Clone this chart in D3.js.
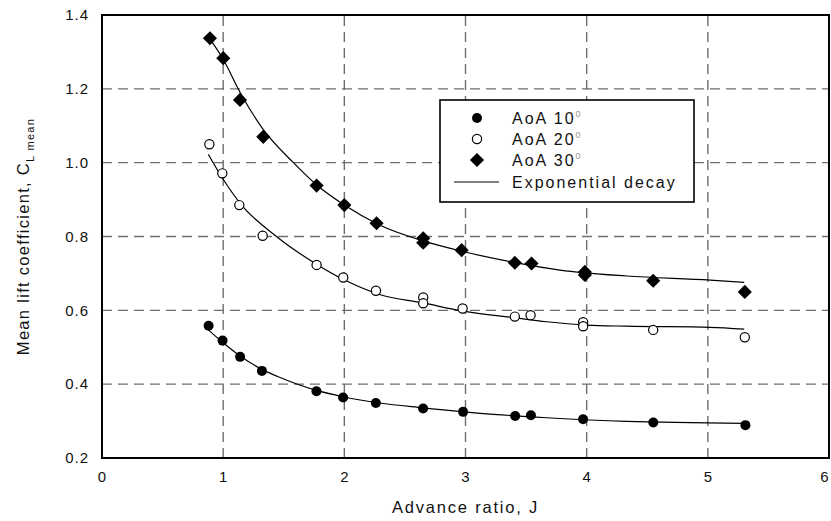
<!DOCTYPE html>
<html>
<head>
<meta charset="utf-8">
<script src="https://cdn.jsdelivr.net/npm/d3@7"></script>
<style>
  body { margin: 0; background: #fff; }
  svg { display: block; font-family: "Liberation Sans", Arial, sans-serif; }
</style>
</head>
<body>
<script>
// measured points [J, C_L]
const aoa10 = [[0.88,0.558],[0.995,0.518],[1.14,0.474],[1.32,0.436],[1.77,0.381],[1.99,0.364],[2.26,0.349],
  [2.65,0.334],[2.98,0.325],[3.41,0.314],[3.54,0.316],[3.97,0.305],[4.55,0.296],[5.31,0.289]];
const aoa20 = [[0.886,1.050],[0.993,0.971],[1.133,0.885],[1.326,0.802],[1.771,0.723],[1.991,0.689],[2.261,0.653],
  [2.651,0.635],[2.651,0.619],[2.976,0.605],[3.407,0.583],[3.537,0.587],[3.971,0.568],[3.971,0.557],[4.549,0.547],[5.305,0.527]];
const aoa30 = [[0.891,1.337],[1.001,1.283],[1.139,1.170],[1.331,1.070],[1.771,0.938],[2.0,0.885],[2.266,0.836],
  [2.651,0.795],[2.651,0.783],[2.968,0.763],[3.407,0.729],[3.545,0.727],[3.985,0.704],[3.985,0.696],[4.549,0.680],[5.305,0.650]];

// fitted exponential decay curves
const fit10 = [[0.864,0.551],[1.0,0.512],[1.14,0.476],[1.32,0.440],[1.47,0.418],[1.77,0.383],[1.99,0.366],
  [2.29,0.349],[2.65,0.336],[3.12,0.321],[3.67,0.309],[4.33,0.299],[5.3,0.294]];
const fit20 = [[0.877,1.023],[1.0,0.955],[1.14,0.89],[1.44,0.80],[1.77,0.725],[1.99,0.684],[2.29,0.643],
  [2.65,0.620],[2.98,0.598],[3.4,0.580],[3.67,0.569],[4.0,0.560],[4.33,0.557],[5.02,0.554],[5.3,0.549]];
const fit30 = [[0.88,1.34],[1.0,1.28],[1.14,1.19],[1.33,1.09],[1.58,1.0],[1.77,0.94],[2.0,0.885],[2.29,0.831],
  [2.65,0.788],[2.97,0.760],[3.4,0.73],[3.78,0.709],[4.33,0.693],[5.02,0.682],[5.3,0.676]];

const xTicks = [0, 1, 2, 3, 4, 5, 6];
const yTicks = [0.2, 0.4, 0.6, 0.8, 1.0, 1.2, 1.4];
const legendLabels = ["AoA 10", "AoA 20", "AoA 30", "Exponential decay"];

const W = 831, H = 521;
const m = { left: 102, right: 829, top: 15, bottom: 458 };

const svg = d3.select("body").append("svg").attr("width", W).attr("height", H);

const x = d3.scaleLinear().domain([0, 6]).range([m.left, m.right]);
const y = d3.scaleLinear().domain([0.2, 1.4]).range([m.bottom, m.top]);

// grid
const grid = svg.append("g").attr("stroke", "#6e6e6e").attr("stroke-width", 1.4).attr("stroke-dasharray", "10,6");
grid.selectAll(".gx").data(xTicks.slice(1, -1)).join("line")
  .attr("x1", d => x(d)).attr("x2", d => x(d)).attr("y1", m.bottom).attr("y2", m.top);
grid.selectAll(".gy").data(yTicks.slice(1, -1)).join("line")
  .attr("y1", d => y(d)).attr("y2", d => y(d)).attr("x1", m.left).attr("x2", m.right);

// axes (labels only, frame drawn separately)
const xAxisG = svg.append("g").attr("transform", `translate(0,${m.bottom})`)
  .call(d3.axisBottom(x).tickValues(xTicks).tickSize(0).tickPadding(13).tickFormat(d3.format("d")));
const yAxisG = svg.append("g").attr("transform", `translate(${m.left},0)`)
  .call(d3.axisLeft(y).tickValues(yTicks).tickSize(0).tickPadding(13).tickFormat(d3.format(".1f")));
[xAxisG, yAxisG].forEach(g => {
  g.select(".domain").remove();
  g.selectAll("text").attr("font-size", 15).attr("fill", "#111").attr("font-family", "Liberation Sans, Arial, sans-serif")
    .attr("letter-spacing", 1);
});
// last x label sits on the page edge, pull it inside
xAxisG.selectAll(".tick text").filter(d => d === 6).attr("text-anchor", "end").attr("dx", 0);

// frame
svg.append("rect").attr("x", m.left).attr("y", m.top).attr("width", m.right - m.left).attr("height", m.bottom - m.top)
  .attr("fill", "none").attr("stroke", "#000").attr("stroke-width", 2);

// fit lines
const line = d3.line().x(d => x(d[0])).y(d => y(d[1])).curve(d3.curveMonotoneX);
svg.selectAll(".fit").data([fit10, fit20, fit30]).join("path")
  .attr("d", line).attr("fill", "none").attr("stroke", "#000").attr("stroke-width", 1.2);

// markers
const diamond = d3.symbol(d3.symbolSquare, 100);
svg.append("g").selectAll("circle").data(aoa10).join("circle")
  .attr("cx", d => x(d[0])).attr("cy", d => y(d[1])).attr("r", 5).attr("fill", "#000");
svg.append("g").selectAll("circle").data(aoa20).join("circle")
  .attr("cx", d => x(d[0])).attr("cy", d => y(d[1])).attr("r", 4.6).attr("fill", "#fff")
  .attr("stroke", "#000").attr("stroke-width", 1.2);
svg.append("g").selectAll("path").data(aoa30).join("path")
  .attr("d", diamond).attr("fill", "#000")
  .attr("transform", d => `translate(${x(d[0])},${y(d[1])}) rotate(45)`);

// legend
const lg = svg.append("g");
lg.append("rect").attr("x", 440).attr("y", 100).attr("width", 254).attr("height", 102)
  .attr("fill", "#fff").attr("stroke", "#000").attr("stroke-width", 1.6);
const rowY = [118, 139, 160, 182];
legendLabels.forEach((lab, i) => {
  const t = lg.append("text").attr("x", 512).attr("y", rowY[i]).attr("dy", "0.35em")
    .attr("font-size", 16).attr("letter-spacing", 2).attr("fill", "#111").text(lab);
  if (i < 3) t.append("tspan").attr("dy", -7).attr("font-size", 9).attr("fill", "#999").text("0");
});
lg.append("circle").attr("cx", 477).attr("cy", rowY[0]).attr("r", 5).attr("fill", "#000");
lg.append("circle").attr("cx", 477).attr("cy", rowY[1]).attr("r", 4.6).attr("fill", "#fff").attr("stroke", "#000").attr("stroke-width", 1.2);
lg.append("path").attr("d", diamond).attr("fill", "#000").attr("transform", `translate(477,${rowY[2]}) rotate(45)`);
lg.append("line").attr("x1", 454).attr("x2", 499).attr("y1", rowY[3]).attr("y2", rowY[3]).attr("stroke", "#000").attr("stroke-width", 1.2);

// axis titles
svg.append("text").attr("x", (m.left + m.right) / 2).attr("y", 513).attr("text-anchor", "middle")
  .attr("font-size", 16.5).attr("letter-spacing", 1.8).attr("fill", "#111").text("Advance ratio, J");
const yt = svg.append("text").attr("transform", `translate(29,${(m.top + m.bottom) / 2}) rotate(-90)`)
  .attr("text-anchor", "middle").attr("font-size", 16.5).attr("letter-spacing", 1.3).attr("fill", "#111");
yt.append("tspan").text("Mean lift coefficient, C");
yt.append("tspan").attr("dy", 5).attr("font-size", 11).text("L mean");
</script>
</body>
</html>
